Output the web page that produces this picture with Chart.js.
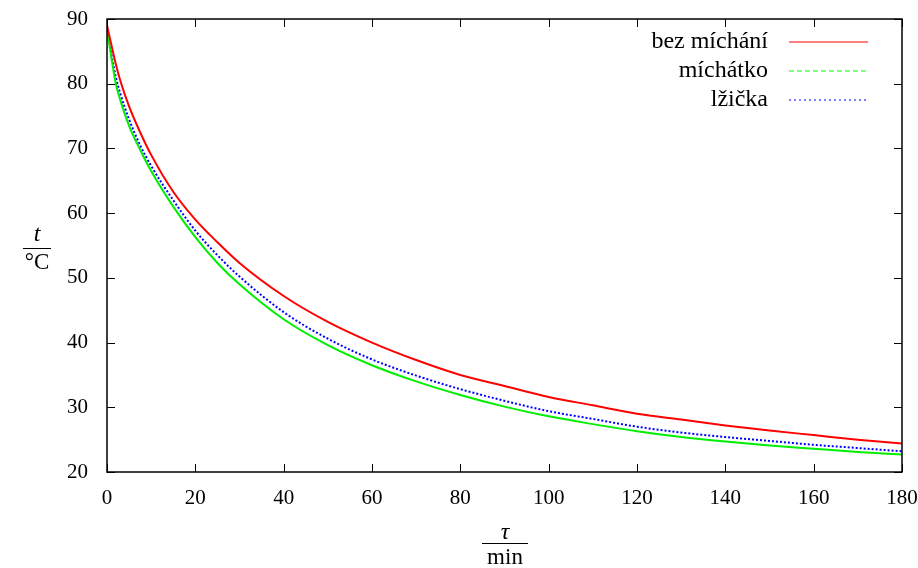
<!DOCTYPE html>
<html>
<head>
<meta charset="utf-8">
<script src="https://cdn.jsdelivr.net/npm/chart.js@4.4.1/dist/chart.umd.min.js"></script>
<style>
  html, body { margin: 0; padding: 0; background: #fff; }
  #wrap { width: 918px; height: 568px; }
</style>
</head>
<body>
<div id="wrap"><canvas id="c"></canvas></div>
<script>
// time in minutes
const times = [0, 1, 2, 3, 5, 7.5, 10, 15, 20, 25, 30, 40, 50, 60, 70, 80, 90, 100, 110, 120, 130, 140, 150, 160, 170, 180];
// temperature in °C
const bezMichani = [89.0, 86.0, 83.0, 80.5, 76.5, 72.5, 69.0, 63.3, 59.0, 55.5, 52.3, 47.2, 43.2, 40.0, 37.3, 35.0, 33.3, 31.6, 30.3, 29.0, 28.1, 27.2, 26.4, 25.7, 25.0, 24.4];
const michatko = [88.5, 84.0, 80.0, 77.5, 73.5, 69.8, 66.5, 61.0, 56.3, 52.3, 49.0, 43.6, 39.6, 36.5, 34.0, 31.9, 30.1, 28.6, 27.4, 26.3, 25.4, 24.7, 24.1, 23.6, 23.1, 22.7];
const lzicka = [88.8, 84.5, 81.0, 78.5, 74.5, 70.5, 67.3, 62.0, 57.3, 53.5, 50.2, 44.7, 40.6, 37.4, 34.9, 32.8, 31.0, 29.4, 28.2, 27.0, 26.1, 25.4, 24.8, 24.2, 23.7, 23.2];

const seriesNames = ["bez míchání", "míchátko", "lžička"];
const xTicks = [0, 20, 40, 60, 80, 100, 120, 140, 160, 180];
const yTicks = [20, 30, 40, 50, 60, 70, 80, 90];

const FONT = "'Liberation Serif', serif";
const toPts = (arr) => arr.map((v, i) => ({ x: times[i], y: v }));

const colors = ["#ff0000", "#00ee00", "#0000ff"];
const legendColors = ["#ff0000", "#00ff00", "#0000ff"];
const legendDash = [[], [5, 3], [2, 3]];

// frame, inward ticks, legend and fraction-style axis titles
const decor = {
  id: "decor",
  afterDatasetsDraw(chart) {
    const { ctx, chartArea: a, scales } = chart;
    ctx.save();
    ctx.strokeStyle = "#000";
    ctx.lineWidth = 1.5;
    ctx.setLineDash([]);
    ctx.strokeRect(a.left, a.top, a.right - a.left, a.bottom - a.top);
    ctx.lineWidth = 1;
    const len = 8;
    ctx.beginPath();
    xTicks.forEach((v) => {
      const px = Math.round(scales.x.getPixelForValue(v)) + 0.5;
      ctx.moveTo(px, a.bottom); ctx.lineTo(px, a.bottom - len);
      ctx.moveTo(px, a.top); ctx.lineTo(px, a.top + len);
    });
    yTicks.forEach((v) => {
      const py = Math.round(scales.y.getPixelForValue(v)) + 0.5;
      ctx.moveTo(a.left, py); ctx.lineTo(a.left + len, py);
      ctx.moveTo(a.right, py); ctx.lineTo(a.right - len, py);
    });
    ctx.stroke();

    // legend
    ctx.font = "24px " + FONT;
    ctx.textAlign = "right";
    ctx.textBaseline = "middle";
    ctx.fillStyle = "#000";
    chart.data.datasets.forEach((ds, i) => {
      const y = 42 + i * 29;
      ctx.fillText(ds.label, 768, y);
      ctx.strokeStyle = legendColors[i];
      ctx.lineWidth = 1.2;
      ctx.setLineDash(legendDash[i]);
      ctx.beginPath();
      ctx.moveTo(789, y); ctx.lineTo(868, y);
      ctx.stroke();
    });
    ctx.setLineDash([]);

    // axis titles as fractions
    ctx.fillStyle = "#000";
    ctx.strokeStyle = "#000";
    ctx.lineWidth = 1;
    ctx.textAlign = "center";
    ctx.textBaseline = "alphabetic";
    // y: t / °C
    const yc = 248;
    ctx.font = "italic 24px " + FONT;
    ctx.fillText("t", 37, yc - 7);
    ctx.beginPath(); ctx.moveTo(23, yc + 0.5); ctx.lineTo(51, yc + 0.5); ctx.stroke();
    ctx.font = "23px " + FONT;
    ctx.fillText("°C", 37, yc + 21);
    // x: τ / min
    const xc = 505, xl = 543;
    ctx.font = "italic 24px " + FONT;
    ctx.fillText("τ", xc, xl - 4);
    ctx.beginPath(); ctx.moveTo(482, xl + 0.5); ctx.lineTo(528, xl + 0.5); ctx.stroke();
    ctx.font = "23px " + FONT;
    ctx.fillText("min", xc, xl + 21);
    ctx.restore();
  }
};

const noPad = (s) => { s.paddingTop = 0; s.paddingBottom = 0; s.paddingLeft = 0; s.paddingRight = 0; };

new Chart(document.getElementById("c"), {
  type: "line",
  data: {
    datasets: [
      { label: seriesNames[0], data: toPts(bezMichani), borderColor: colors[0], borderWidth: 2, borderDash: [] },
      { label: seriesNames[1], data: toPts(michatko), borderColor: colors[1], borderWidth: 2, borderDash: [] },
      { label: seriesNames[2], data: toPts(lzicka), borderColor: colors[2], borderWidth: 2, borderDash: [2, 2] },
    ],
  },
  options: {
    responsive: true,
    maintainAspectRatio: false,
    animation: false,
    layout: { padding: { top: 19, right: 16, left: 0, bottom: 0 } },
    elements: {
      point: { radius: 0 },
      line: { cubicInterpolationMode: "monotone", fill: false },
    },
    plugins: {
      legend: { display: false },
      tooltip: { enabled: false },
    },
    scales: {
      x: {
        type: "linear",
        min: 0,
        max: 180,
        afterBuildTicks: (s) => { s.ticks = xTicks.map((v) => ({ value: v })); },
        afterFit: (s) => { s.height = 96; noPad(s); },
        grid: { display: false, drawTicks: false },
        border: { display: false },
        ticks: { color: "#000", padding: 14, maxRotation: 0, font: { family: FONT, size: 21 } },
      },
      y: {
        min: 20,
        max: 90,
        afterBuildTicks: (s) => { s.ticks = yTicks.map((v) => ({ value: v })); },
        afterFit: (s) => { s.width = 107; noPad(s); },
        grid: { display: false, drawTicks: false },
        border: { display: false },
        ticks: { color: "#000", padding: 19, font: { family: FONT, size: 21 } },
      },
    },
  },
  plugins: [decor],
});
</script>
</body>
</html>
